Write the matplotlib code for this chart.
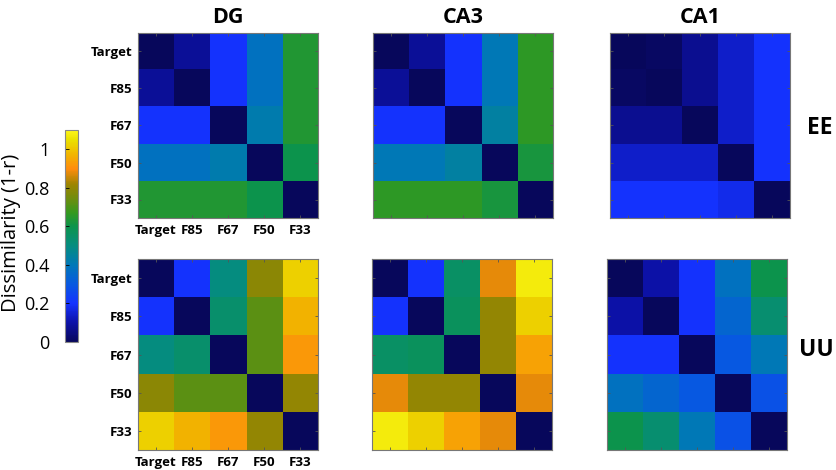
import numpy as np
import matplotlib.pyplot as plt
from matplotlib.colors import LinearSegmentedColormap, Normalize
from matplotlib.cm import ScalarMappable

plt.rcParams['font.family'] = ['Open Sans', 'DejaVu Sans']

labels = ['Target', 'F85', 'F67', 'F50', 'F33']
regions = ['DG', 'CA3', 'CA1']
conditions = ['EE', 'UU']

# dissimilarity (1-r) matrices, rows/cols in label order
dg_ee = [[0.00, 0.08, 0.20, 0.38, 0.64],
         [0.08, 0.00, 0.20, 0.38, 0.64],
         [0.20, 0.20, 0.00, 0.42, 0.64],
         [0.38, 0.38, 0.42, 0.00, 0.60],
         [0.64, 0.64, 0.64, 0.60, 0.00]]
ca3_ee = [[0.00, 0.08, 0.20, 0.40, 0.66],
          [0.08, 0.00, 0.20, 0.40, 0.66],
          [0.20, 0.20, 0.00, 0.44, 0.66],
          [0.40, 0.40, 0.44, 0.00, 0.62],
          [0.66, 0.66, 0.66, 0.62, 0.00]]
ca1_ee = [[0.00, 0.01, 0.07, 0.14, 0.20],
          [0.01, 0.00, 0.07, 0.14, 0.20],
          [0.07, 0.07, 0.00, 0.14, 0.20],
          [0.14, 0.14, 0.14, 0.00, 0.20],
          [0.20, 0.20, 0.20, 0.18, 0.00]]
dg_uu = [[0.00, 0.20, 0.50, 0.79, 1.02],
         [0.20, 0.00, 0.54, 0.72, 0.97],
         [0.50, 0.54, 0.00, 0.72, 0.92],
         [0.79, 0.72, 0.72, 0.00, 0.80],
         [1.02, 0.97, 0.92, 0.80, 0.00]]
ca3_uu = [[0.00, 0.20, 0.55, 0.88, 1.07],
          [0.20, 0.00, 0.57, 0.80, 1.02],
          [0.55, 0.57, 0.00, 0.80, 0.94],
          [0.88, 0.80, 0.80, 0.00, 0.88],
          [1.07, 1.02, 0.94, 0.88, 0.00]]
ca1_uu = [[0.00, 0.10, 0.20, 0.38, 0.60],
          [0.10, 0.00, 0.20, 0.34, 0.53],
          [0.20, 0.20, 0.00, 0.30, 0.40],
          [0.38, 0.34, 0.30, 0.00, 0.28],
          [0.60, 0.53, 0.40, 0.28, 0.00]]

mats = [[dg_ee, ca3_ee, ca1_ee], [dg_uu, ca3_uu, ca1_uu]]

vmin, vmax = 0.0, 1.1
anchors = [(0.00, (0.03, 0.03, 0.36)), (0.10, (0.05, 0.07, 0.66)),
           (0.20, (0.08, 0.20, 1.00)), (0.30, (0.03, 0.35, 0.88)),
           (0.40, (0.00, 0.47, 0.72)), (0.50, (0.02, 0.55, 0.50)),
           (0.60, (0.05, 0.58, 0.30)), (0.67, (0.20, 0.60, 0.12)),
           (0.75, (0.45, 0.55, 0.05)), (0.82, (0.62, 0.52, 0.00)),
           (0.90, (1.00, 0.55, 0.05)), (0.97, (0.95, 0.70, 0.00)),
           (1.05, (0.92, 0.88, 0.00)), (1.10, (1.00, 0.97, 0.10))]
cmap = LinearSegmentedColormap.from_list('dis', [(v / vmax, c) for v, c in anchors])
norm = Normalize(vmin, vmax)

W, H = 837, 470
fig = plt.figure(figsize=(W / 100, H / 100), dpi=100)

lefts = [[138, 373, 610], [138, 372, 607]]
rows = [(33, 218), (259, 450)]
aw = 180

for r in range(2):
    for c in range(3):
        top, bot = rows[r]
        ax = fig.add_axes([lefts[r][c] / W, 1 - bot / H, aw / W, (bot - top) / H])
        ax.imshow(np.array(mats[r][c]), cmap=cmap, norm=norm, aspect='auto',
                  interpolation='nearest')
        ax.set_xticks(range(5))
        ax.set_yticks(range(5))
        ax.tick_params(direction='in', length=2.5, width=0.6, color='#555555',
                       top=True, right=True, labelsize=9.5, pad=4)
        if c == 0:
            ax.set_xticklabels(labels, fontweight='bold')
            ax.set_yticklabels(labels, fontweight='bold')
        else:
            ax.set_xticklabels([])
            ax.set_yticklabels([])
        for s in ax.spines.values():
            s.set_color('#777777')
            s.set_linewidth(0.8)
        if r == 0:
            ax.set_title(regions[c], fontsize=15.5, fontweight='bold', pad=7)

# row labels on the right
fig.text(820 / W, 1 - 128 / H, conditions[0], fontsize=16.5, fontweight='bold',
         ha='center', va='center')
fig.text(816 / W, 1 - 350 / H, conditions[1], fontsize=16.5, fontweight='bold',
         ha='center', va='center')

cax = fig.add_axes([65 / W, 1 - 342 / H, 13 / W, 212 / H])
sm = ScalarMappable(norm=norm, cmap=cmap)
cb = fig.colorbar(sm, cax=cax, ticks=[0, 0.2, 0.4, 0.6, 0.8, 1.0])
cb.ax.set_yticklabels(['0', '0.2', '0.4', '0.6', '0.8', '1'])
cb.ax.yaxis.set_ticks_position('left')
cb.ax.tick_params(direction='in', length=3, width=0.6, labelsize=13, pad=11)
cb.outline.set_edgecolor('#888888')
cb.outline.set_linewidth(0.8)
fig.text(11 / W, 1 - 233 / H, 'Dissimilarity (1-r)', rotation=90, fontsize=14.5,
         va='center', ha='center')

fig.savefig('out.png', dpi=100)
